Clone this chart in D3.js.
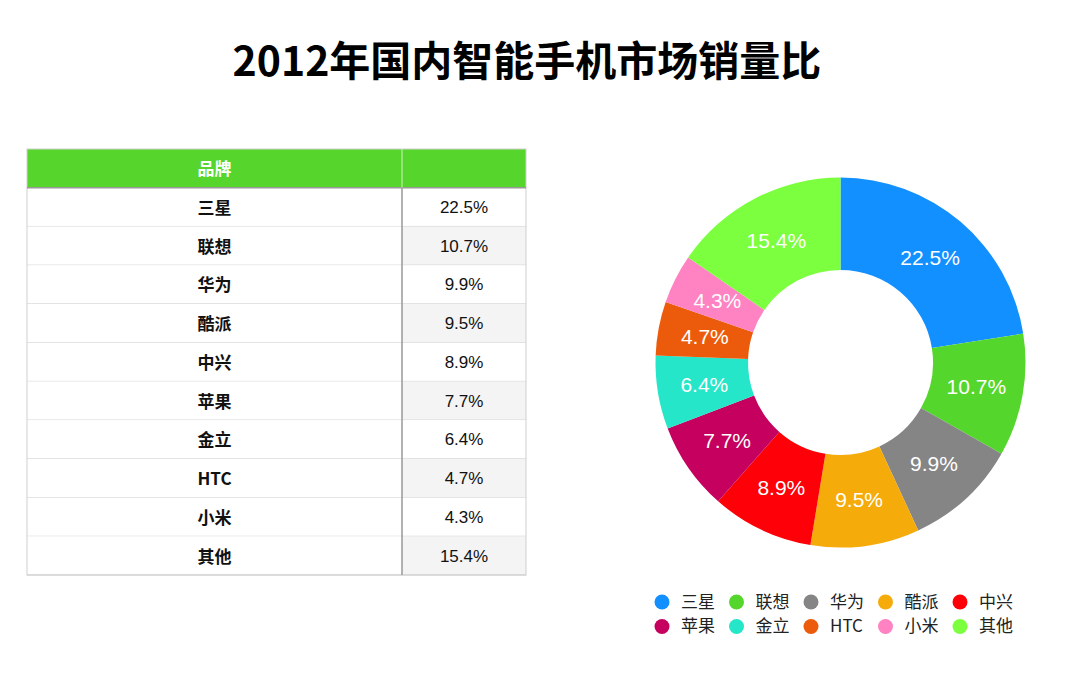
<!DOCTYPE html>
<html>
<head>
<meta charset="utf-8">
<title>2012年国内智能手机市场销量比</title>
<script src="https://cdn.jsdelivr.net/npm/d3@7"></script>
<style>
  html, body { margin: 0; padding: 0; background: #fff; }
  text { font-family: "Noto Sans CJK SC", "Noto Sans", sans-serif; }
</style>
</head>
<body>
<div id="chart"></div>
<script>
  const width = 1080
  const height = 688

  // data
  const brands = ["三星", "联想", "华为", "酷派", "中兴", "苹果", "金立", "HTC", "小米", "其他"]
  const shares = [22.5, 10.7, 9.9, 9.5, 8.9, 7.7, 6.4, 4.7, 4.3, 15.4]
  const colors = ["#1290ff", "#55d62c", "#858585", "#f5ab0a", "#fd0008",
                  "#c5005e", "#25e6c8", "#ec5b0b", "#ff82c2", "#7bff3e"]
  const headers = ["品牌", ""]

  const data = brands.map((b, i) => ({ brand: b, value: shares[i] }))
  const fmt = d => d.toFixed(1) + "%"

  const svg = d3.select("#chart")
    .append("svg")
    .attr("width", width)
    .attr("height", height)

  // title
  svg.append("text")
    .attr("x", 527)
    .attr("y", 76)
    .attr("text-anchor", "middle")
    .attr("font-size", 41)
    .attr("font-weight", "bold")
    .attr("fill", "#000")
    .text("2012年国内智能手机市场销量比")

  // table
  const tLeft = 27, tRight = 526, tTop = 149, tBottom = 575, tMid = 402
  const rowY = d3.scaleBand()
    .domain(d3.range(brands.length + 1))
    .range([tTop, tBottom])
  const rh = rowY.bandwidth()

  const table = svg.append("g")

  table.append("rect")
    .attr("x", tLeft).attr("y", tTop)
    .attr("width", tRight - tLeft).attr("height", rh)
    .attr("fill", "#56d62c")

  const rows = table.selectAll("g.row")
    .data(data)
    .enter().append("g")
    .attr("class", "row")
    .attr("transform", (d, i) => `translate(0,${rowY(i + 1)})`)

  rows.append("rect")
    .attr("x", tLeft).attr("width", tMid - tLeft).attr("height", rh)
    .attr("fill", "#fff")
  rows.append("rect")
    .attr("x", tMid).attr("width", tRight - tMid).attr("height", rh)
    .attr("fill", (d, i) => i % 2 === 1 ? "#f4f4f4" : "#fff")

  // horizontal lines
  rows.append("line")
    .attr("x1", tLeft).attr("x2", tRight)
    .attr("y1", rh).attr("y2", rh)
    .attr("stroke", "#cfcfcf").attr("stroke-width", 1)

  table.append("rect")
    .attr("x", tLeft).attr("y", tTop)
    .attr("width", tRight - tLeft).attr("height", tBottom - tTop)
    .attr("fill", "none").attr("stroke", "#cfcfcf").attr("stroke-width", 1)

  table.append("line")
    .attr("x1", tLeft).attr("x2", tRight)
    .attr("y1", tTop + rh).attr("y2", tTop + rh)
    .attr("stroke", "#999").attr("stroke-width", 1.5)

  // column divider
  table.append("line")
    .attr("x1", tMid).attr("x2", tMid)
    .attr("y1", tTop).attr("y2", tTop + rh)
    .attr("stroke", "#c8f5b8").attr("stroke-width", 1)
  table.append("line")
    .attr("x1", tMid).attr("x2", tMid)
    .attr("y1", tTop + rh).attr("y2", tBottom)
    .attr("stroke", "#999").attr("stroke-width", 1.5)

  table.selectAll("text.head")
    .data(headers)
    .enter().append("text")
    .attr("class", "head")
    .attr("x", (d, i) => i === 0 ? (tLeft + tMid) / 2 : (tMid + tRight) / 2)
    .attr("y", tTop + rh / 2 + 1)
    .attr("dy", "0.35em")
    .attr("text-anchor", "middle")
    .attr("font-size", 17)
    .attr("font-weight", "bold")
    .attr("fill", "#fff")
    .text(d => d)

  rows.append("text")
    .attr("x", (tLeft + tMid) / 2)
    .attr("y", rh / 2 + 1)
    .attr("dy", "0.35em")
    .attr("text-anchor", "middle")
    .attr("font-size", 17)
    .attr("font-weight", "bold")
    .attr("fill", "#111")
    .text(d => d.brand)

  rows.append("text")
    .attr("x", (tMid + tRight) / 2)
    .attr("y", rh / 2)
    .attr("dy", "0.35em")
    .attr("text-anchor", "middle")
    .attr("font-size", 17)
    .attr("fill", "#111")
    .style("font-family", "'Liberation Sans', Arial, sans-serif")
    .text(d => fmt(d.value))

  // donut
  const cx = 840.5, cy = 362.5
  const outerR = 185, innerR = 92.5

  const pie = d3.pie().value(d => d.value).sort(null)
  const arc = d3.arc().innerRadius(innerR).outerRadius(outerR)
  const labelArc = d3.arc().innerRadius(138).outerRadius(138)
  const color = d3.scaleOrdinal().domain(brands).range(colors)

  const donut = svg.append("g")
    .attr("transform", `translate(${cx},${cy})`)

  const slices = donut.selectAll("g.slice")
    .data(pie(data))
    .enter().append("g")
    .attr("class", "slice")

  slices.append("path")
    .attr("d", arc)
    .attr("fill", d => color(d.data.brand))

  slices.append("text")
    .attr("transform", d => `translate(${labelArc.centroid(d)})`)
    .attr("dy", "0.35em")
    .attr("text-anchor", "middle")
    .attr("font-size", 21)
    .attr("fill", "#fff")
    .style("font-family", "'Liberation Sans', Arial, sans-serif")
    .text(d => fmt(d.data.value))

  // legend
  const legendX = d3.scaleLinear().domain([0, 4]).range([662, 960])
  const legendY = d3.scaleLinear().domain([0, 1]).range([602, 626.5])

  const legend = svg.append("g")
    .selectAll("g")
    .data(brands)
    .enter().append("g")
    .attr("transform", (d, i) => `translate(${legendX(i % 5)},${legendY(Math.floor(i / 5))})`)

  legend.append("circle")
    .attr("r", 7.5)
    .attr("fill", d => color(d))

  legend.append("text")
    .attr("x", 19)
    .attr("dy", "0.35em")
    .attr("font-size", 17)
    .attr("fill", "#222")
    .text(d => d)
</script>
</body>
</html>
